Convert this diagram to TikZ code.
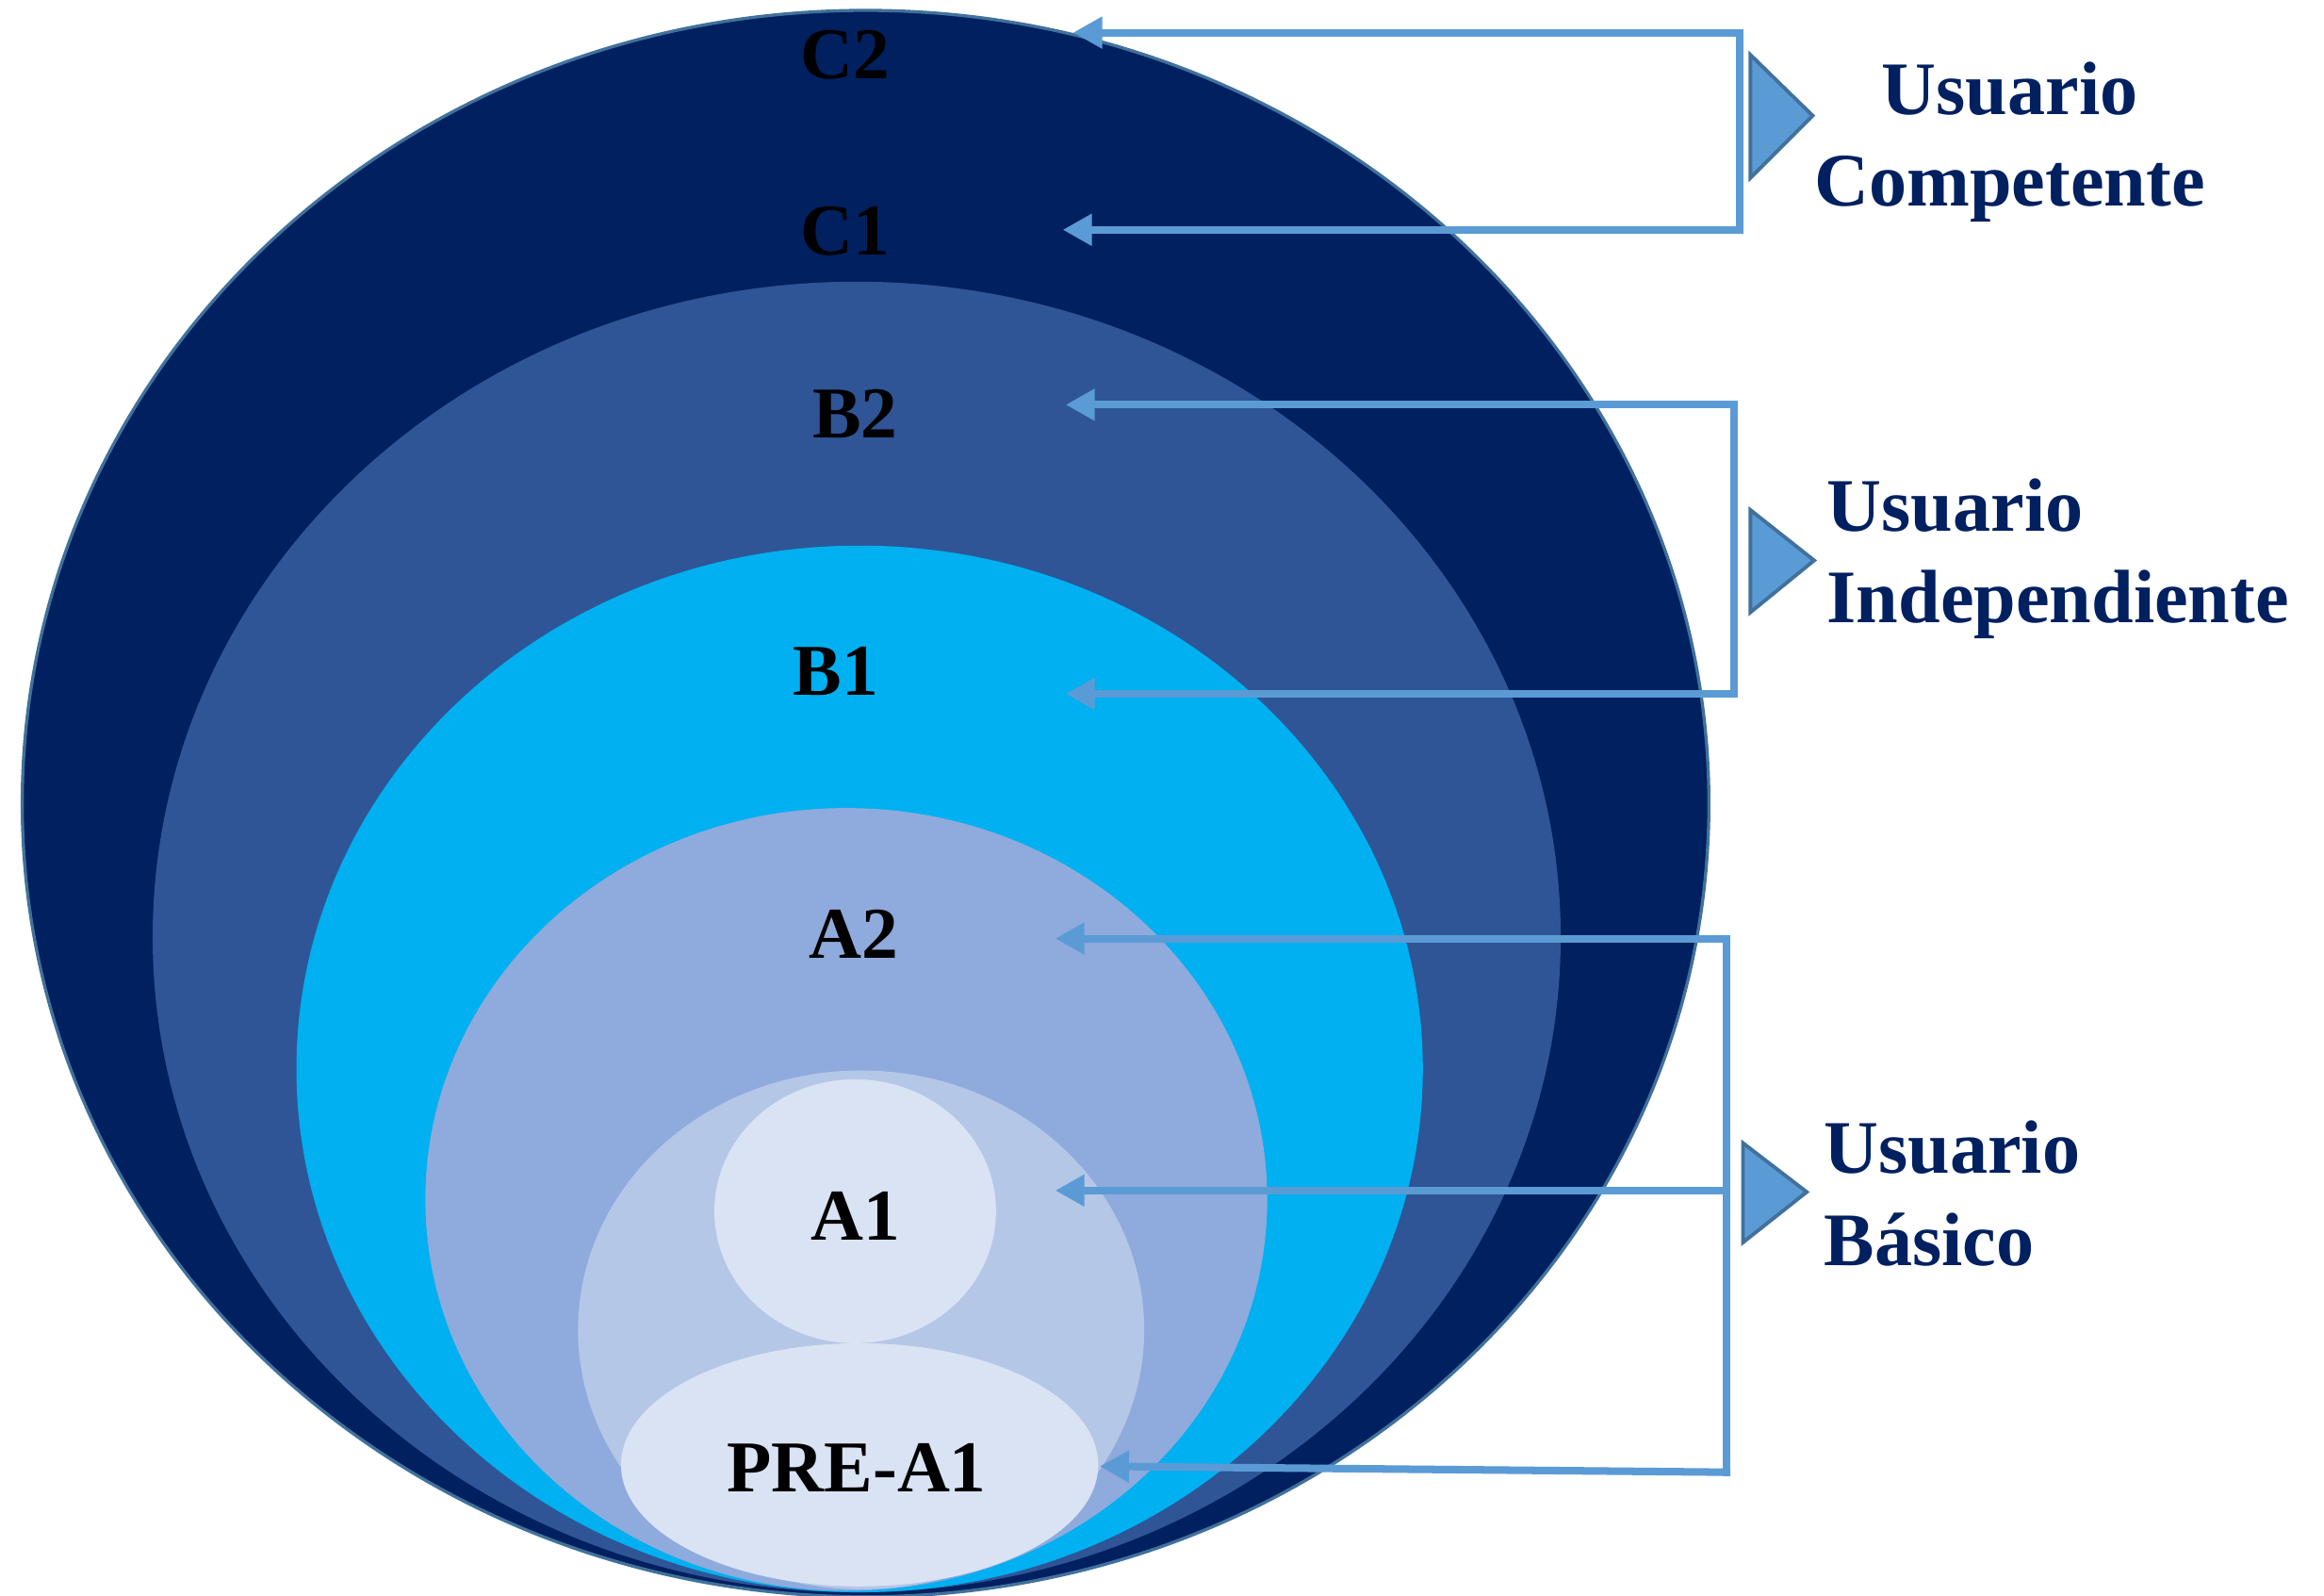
\documentclass[tikz,border=0pt]{standalone}
\usepackage{fontspec}
\setmainfont{Liberation Serif}
\usetikzlibrary{arrows.meta}
\definecolor{navy}{HTML}{002060}
\definecolor{royal}{HTML}{2F5597}
\definecolor{cyanlevel}{HTML}{00B0F0}
\definecolor{periwinkle}{HTML}{8FAADC}
\definecolor{paleblue}{HTML}{B4C7E7}
\definecolor{mistblue}{HTML}{DAE3F3}
\definecolor{linkblue}{HTML}{5B9BD5}
\definecolor{edgeblue}{HTML}{41719C}
\begin{document}
\begin{tikzpicture}[x=0.01cm, y=-0.01cm,
		level/.style={inner sep=0pt, text=black, font=\fontsize{14}{16}\selectfont\bfseries},
		group/.style={inner sep=0pt, text=navy, font=\fontsize{14.5}{17.6}\selectfont\bfseries},
		link/.style={draw=linkblue, line width=1.45pt, line cap=rect},
		pointer/.style={link, -{Triangle[length=5.6pt, width=5.8pt]}},
		marker/.style={fill=linkblue, draw=edgeblue, line width=0.7pt, line join=miter}
		]
	\useasboundingbox (0,0) rectangle (1568,1076);
	\fill[white] (0,0) rectangle (1568,1076);
	\filldraw[fill=navy, draw=edgeblue, line width=0.6pt] (584,542) ellipse (569 and 535);
	\fill[royal] (578,632) ellipse (475 and 442);
	\fill[cyanlevel] (580,721) ellipse (380 and 353);
	\fill[periwinkle] (571,809) ellipse (284 and 264);
	\fill[paleblue] (581,897) ellipse (191 and 175);
	\fill[mistblue] (577,817) ellipse (95 and 89);
	\fill[mistblue] (580,988) ellipse (161 and 82);

	\node [level] (c2) at (570,37) {C2};
	\node [level] (c1) at (570,156) {C1};
	\node [level] (b2) at (577,279) {B2};
	\node [level] (b1) at (564,453) {B1};
	\node [level] (a2) at (576,630) {A2};
	\node [level] (a1) at (577,820) {A1};
	\node [level] (prea1) at (578,990) {PRE-A1};

	\coordinate (c2tip) at (724,22);
	\coordinate (c1tip) at (717,155);
	\coordinate (b2tip) at (719,273);
	\coordinate (b1tip) at (719,468);
	\coordinate (a2tip) at (712,633);
	\coordinate (a1tip) at (712,803);
	\coordinate (prea1tip) at (742,989);

	\coordinate (comptop) at (1174,22);
	\coordinate (compbot) at (1174,155);
	\coordinate (indtop) at (1170,273);
	\coordinate (indbot) at (1170,468);
	\coordinate (bastop) at (1165,633);
	\coordinate (basmid) at (1165,803);
	\coordinate (basbot) at (1165,993);

	\draw [link] (comptop) -- (compbot);
	\draw [pointer] (comptop) -- (c2tip);
	\draw [pointer] (compbot) -- (c1tip);
	\draw [link] (indtop) -- (indbot);
	\draw [pointer] (indtop) -- (b2tip);
	\draw [pointer] (indbot) -- (b1tip);
	\draw [link] (bastop) -- (basbot);
	\draw [pointer] (bastop) -- (a2tip);
	\draw [pointer] (basmid) -- (a1tip);
	\draw [pointer] (basbot) -- (prea1tip);

	\filldraw [marker] (1181,37) -- (1181,120) -- (1223,78) -- cycle;
	\filldraw [marker] (1181,344) -- (1181,413) -- (1224,378) -- cycle;
	\filldraw [marker] (1176,771) -- (1176,838) -- (1219,804) -- cycle;

	\node [group, align=center] (competente) at (1356,96) {Usuario\\Competente};
	\node [group, align=left, anchor=west] (independiente) at (1232,377) {Usuario\\Independiente};
	\node [group, align=left, anchor=west] (basico) at (1230,805) {Usuario\\Básico};
\end{tikzpicture}
\end{document}
